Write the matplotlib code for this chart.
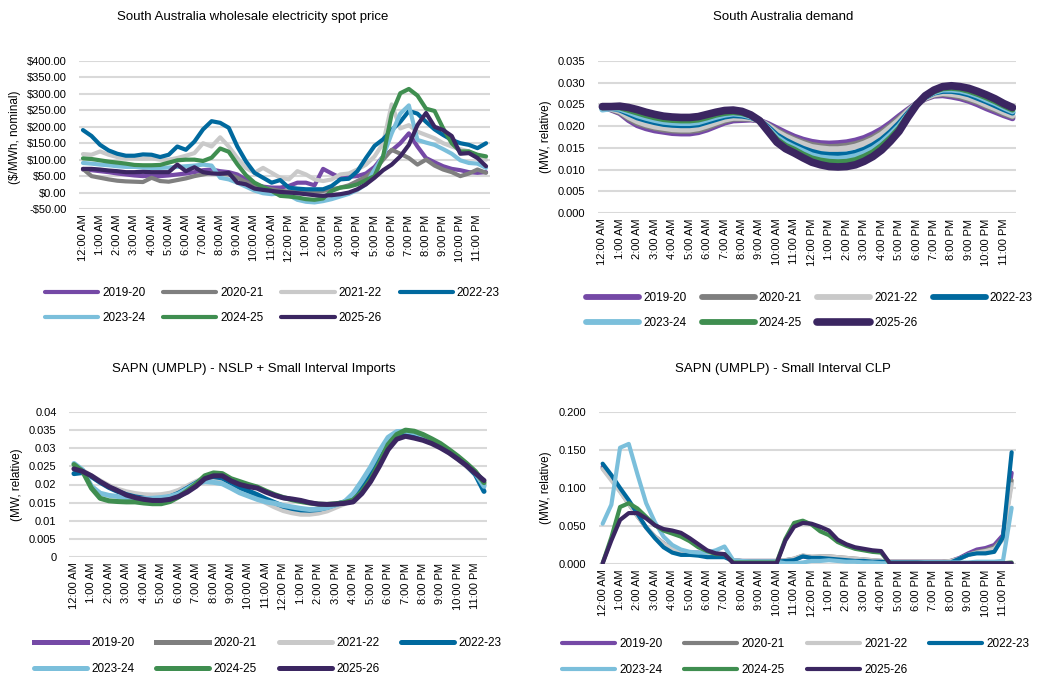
import matplotlib.pyplot as plt
import numpy as np
from matplotlib.ticker import FixedLocator, FuncFormatter

plt.rcParams['font.family'] = ['Liberation Sans', 'DejaVu Sans']

# Financial years shown in every panel
years = ["2019-20", "2020-21", "2021-22", "2022-23", "2023-24", "2024-25", "2025-26"]
year_colours = ["#7549A6", "#7F7F7F", "#C9C9C9", "#00699E", "#7BBFDB", "#3F8E50", "#3B2661"]

# 48 half-hour slots, labelled on the hour
hour_labels = ["12:00 AM", "1:00 AM", "2:00 AM", "3:00 AM", "4:00 AM", "5:00 AM",
               "6:00 AM", "7:00 AM", "8:00 AM", "9:00 AM", "10:00 AM", "11:00 AM",
               "12:00 PM", "1:00 PM", "2:00 PM", "3:00 PM", "4:00 PM", "5:00 PM",
               "6:00 PM", "7:00 PM", "8:00 PM", "9:00 PM", "10:00 PM", "11:00 PM"]

# Wholesale spot price ($/MWh)
price_2019 = [70, 68, 65, 62, 58, 55, 52, 50, 52, 50, 52, 55, 58, 62, 68, 70, 65, 62, 55, 40, 25, 18, 15, 15,
              20, 30, 30, 22, 72, 58, 45, 48, 50, 58, 78, 110, 128, 150, 180, 140, 105, 92, 80, 72, 68, 62, 60, 62]
price_2020 = [72, 50, 45, 40, 36, 34, 33, 32, 45, 35, 33, 38, 43, 50, 55, 60, 58, 55, 45, 32, 20, 15, 10, 5,
              3, 2, 2, 3, 5, 10, 15, 22, 35, 48, 68, 100, 130, 118, 105, 85, 100, 82, 70, 62, 50, 58, 70, 60]
price_2021 = [117, 115, 125, 115, 108, 104, 104, 103, 104, 100, 100, 105, 112, 120, 150, 140, 168, 140, 105, 75, 60, 75, 60, 45,
              40, 65, 55, 40, 35, 40, 55, 58, 70, 85, 110, 150, 268, 195, 205, 185, 175, 165, 150, 140, 132, 125, 112, 100]
price_2022 = [190, 172, 145, 128, 118, 112, 112, 116, 115, 108, 115, 140, 130, 155, 192, 217, 212, 197, 140, 95, 60, 45, 30, 38,
              15, 12, 10, 10, 10, 20, 40, 42, 65, 105, 142, 162, 190, 215, 248, 240, 215, 192, 175, 160, 150, 145, 135, 150]
price_2023 = [90, 88, 85, 83, 80, 78, 78, 76, 75, 75, 76, 78, 80, 82, 85, 82, 45, 40, 30, 18, 6, -2, -5, -3,
              -8, -22, -28, -30, -26, -20, -12, -4, 8, 25, 70, 110, 180, 240, 265, 160, 152, 145, 132, 118, 98, 90, 88, 75]
price_2024 = [104, 102, 98, 94, 91, 88, 84, 83, 83, 84, 91, 98, 100, 100, 96, 106, 134, 124, 86, 53, 30, 17, 5, -10,
              -12, -15, -20, -22, -18, 5, 15, 18, 25, 38, 50, 110, 240, 302, 315, 295, 255, 248, 195, 150, 125, 125, 115, 110]
price_2025 = [72, 72, 70, 67, 65, 62, 62, 63, 62, 62, 62, 85, 65, 77, 62, 58, 57, 60, 30, 25, 12, 8, 5, 2,
              0, -2, -5, -8, -10, -8, -5, 0, 10, 25, 45, 68, 85, 110, 145, 205, 242, 200, 190, 172, 118, 120, 105, 80]

# South Australia demand (MW, relative)
demand_2019 = [.0245, .0238, .0230, .0214, .0202, .0195, .0190, .0187, .0184, .0183, .0183, .0186, .0192, .0200, .0208, .0213,
               .0214, .0215, .0213, .0205, .0195, .0185, .0176, .0169, .0164, .0161, .0160, .0161, .0163, .0167, .0173, .0182,
               .0193, .0207, .0223, .0238, .0252, .0263, .0270, .0271, .0268, .0264, .0258, .0250, .0241, .0233, .0225, .0218]
demand_2020 = [.0245, .0239, .0232, .0218, .0207, .0201, .0196, .0192, .0190, .0189, .0189, .0191, .0197, .0205, .0212, .0217,
               .0217, .0217, .0213, .0202, .0190, .0179, .0170, .0163, .0157, .0154, .0152, .0153, .0155, .0159, .0165, .0174,
               .0186, .0201, .0218, .0235, .0252, .0264, .0272, .0274, .0272, .0268, .0262, .0255, .0246, .0238, .0229, .0222]
demand_2021 = [.0245, .0240, .0234, .0221, .0211, .0204, .0199, .0196, .0193, .0192, .0192, .0195, .0201, .0208, .0215, .0219,
               .0219, .0218, .0213, .0201, .0187, .0176, .0167, .0159, .0152, .0149, .0147, .0147, .0149, .0153, .0160, .0169,
               .0181, .0197, .0214, .0234, .0251, .0265, .0273, .0276, .0274, .0271, .0265, .0258, .0249, .0241, .0232, .0224]
demand_2022 = [.0240, .0242, .0238, .0229, .0220, .0214, .0209, .0205, .0203, .0202, .0202, .0204, .0210, .0216, .0222, .0225,
               .0224, .0221, .0213, .0197, .0179, .0167, .0157, .0148, .0141, .0136, .0134, .0134, .0135, .0139, .0146, .0156,
               .0169, .0186, .0206, .0229, .0251, .0267, .0277, .0281, .0281, .0278, .0273, .0265, .0257, .0248, .0239, .0231]
demand_2023 = [.0238, .0241, .0240, .0233, .0225, .0219, .0214, .0210, .0208, .0207, .0207, .0209, .0215, .0221, .0226, .0229,
               .0227, .0222, .0213, .0194, .0174, .0161, .0151, .0142, .0133, .0128, .0126, .0125, .0127, .0131, .0138, .0148,
               .0162, .0180, .0200, .0226, .0250, .0268, .0278, .0284, .0284, .0282, .0277, .0270, .0261, .0253, .0243, .0234]
demand_2024 = [.0243, .0244, .0243, .0237, .0231, .0225, .0220, .0216, .0214, .0213, .0213, .0215, .0220, .0226, .0230, .0232,
               .0230, .0224, .0213, .0191, .0169, .0155, .0146, .0135, .0126, .0121, .0118, .0117, .0118, .0122, .0130, .0140,
               .0155, .0173, .0195, .0224, .0250, .0269, .0280, .0287, .0288, .0286, .0281, .0274, .0266, .0257, .0247, .0238]
demand_2025 = [.0245, .0245, .0246, .0243, .0238, .0232, .0227, .0223, .0221, .0220, .0220, .0222, .0227, .0232, .0236, .0237,
               .0234, .0226, .0213, .0188, .0163, .0148, .0138, .0127, .0117, .0111, .0107, .0106, .0107, .0111, .0119, .0130,
               .0145, .0165, .0188, .0220, .0249, .0270, .0283, .0291, .0293, .0291, .0287, .0280, .0272, .0263, .0252, .0243]

# SAPN NSLP + small interval imports (no profile for the two earliest years)
nslp_2019 = None
nslp_2020 = None
nslp_2021 = [.0245, .0238, .0224, .0210, .0197, .0187, .0180, .0175, .0172, .0171, .0172, .0176, .0184, .0196, .0208, .0219,
             .0220, .0212, .0198, .0184, .0172, .0161, .0150, .0138, .0128, .0122, .0118, .0118, .0121, .0127, .0137, .0147,
             .0160, .0190, .0230, .0275, .0318, .0338, .0342, .0338, .0330, .0318, .0304, .0288, .0270, .0250, .0228, .0200]
nslp_2022 = [.0230, .0233, .0222, .0206, .0192, .0181, .0172, .0166, .0162, .0160, .0161, .0166, .0176, .0190, .0204, .0218,
             .0222, .0218, .0205, .0192, .0182, .0172, .0160, .0150, .0140, .0134, .0130, .0129, .0131, .0137, .0145, .0152,
             .0165, .0195, .0235, .0280, .0320, .0340, .0343, .0339, .0332, .0320, .0306, .0290, .0272, .0253, .0228, .0181]
nslp_2023 = [.0258, .0240, .0195, .0176, .0170, .0167, .0164, .0162, .0161, .0162, .0164, .0167, .0174, .0188, .0202, .0208,
             .0206, .0202, .0190, .0177, .0168, .0159, .0152, .0148, .0142, .0138, .0134, .0131, .0132, .0136, .0144, .0152,
             .0175, .0210, .0248, .0292, .0330, .0346, .0347, .0343, .0335, .0322, .0308, .0292, .0273, .0253, .0232, .0195]
nslp_2024 = [.0255, .0236, .0190, .0162, .0155, .0153, .0152, .0152, .0149, .0147, .0147, .0153, .0166, .0183, .0201, .0224,
             .0232, .0230, .0216, .0208, .0200, .0193, .0182, .0172, .0164, .0158, .0153, .0149, .0146, .0145, .0147, .0150,
             .0157, .0180, .0213, .0259, .0310, .0338, .0350, .0347, .0338, .0326, .0313, .0296, .0278, .0258, .0236, .0205]
nslp_2025 = [.0243, .0236, .0224, .0208, .0194, .0183, .0171, .0164, .0159, .0156, .0156, .0159, .0167, .0179, .0195, .0216,
             .0224, .0224, .0210, .0200, .0194, .0190, .0179, .0170, .0163, .0160, .0156, .0150, .0146, .0145, .0146, .0148,
             .0152, .0175, .0208, .0250, .0296, .0325, .0333, .0328, .0322, .0313, .0301, .0287, .0270, .0252, .0231, .0211]

# SAPN small interval controlled load profile
clp_2019 = [.128, .113, .097, .080, .064, .048, .036, .027, .020, .016, .015, .015, .013, .012, .012, .005,
            .004, .004, .004, .004, .004, .005, .006, .010, .008, .009, .009, .008, .007, .006, .005, .004,
            .004, .003, .003, .003, .003, .003, .003, .003, .004, .008, .014, .019, .021, .025, .038, .120]
clp_2020 = [.126, .112, .096, .079, .063, .048, .036, .027, .020, .016, .015, .014, .013, .012, .011, .005,
            .004, .004, .004, .004, .004, .005, .007, .011, .009, .010, .010, .009, .008, .007, .006, .005,
            .004, .003, .003, .003, .003, .003, .003, .003, .004, .007, .012, .016, .018, .022, .034, .110]
clp_2021 = [.125, .110, .095, .079, .063, .048, .036, .027, .020, .016, .015, .014, .013, .012, .011, .005,
            .004, .004, .004, .004, .004, .005, .007, .011, .010, .010, .010, .009, .008, .007, .006, .005,
            .004, .003, .003, .003, .003, .003, .003, .003, .004, .007, .012, .015, .017, .020, .032, .105]
clp_2022 = [.132, .117, .100, .084, .066, .048, .034, .022, .015, .012, .012, .011, .009, .009, .009, .004,
            .003, .003, .003, .003, .003, .004, .005, .010, .008, .008, .007, .006, .005, .004, .004, .003,
            .003, .002, .002, .002, .002, .002, .002, .002, .002, .007, .012, .014, .014, .016, .035, .147]
clp_2023 = [.053, .078, .153, .158, .118, .080, .055, .036, .025, .019, .016, .015, .015, .018, .023, .005,
            .004, .003, .003, .003, .003, .001, .001, .002, .004, .004, .005, .004, .003, .003, .002, .002,
            .001, .001, .001, .001, .001, .002, .002, .002, .002, .002, .002, .003, .003, .003, .004, .074]
clp_2024 = [.001, .035, .075, .080, .073, .062, .051, .044, .040, .036, .030, .022, .017, .013, .013, .002,
            .002, .002, .002, .002, .002, .033, .054, .057, .052, .043, .038, .029, .024, .020, .018, .016,
            .015, .001, .001, .001, .001, .001, .001, .001, .001, .001, .001, .001, .001, .001, .001, .002]
clp_2025 = [.001, .031, .058, .067, .067, .060, .051, .046, .044, .041, .034, .026, .018, .014, .013, .001,
            .001, .001, .001, .001, .001, .031, .049, .054, .053, .049, .044, .032, .026, .022, .020, .018,
            .017, .001, .001, .001, .001, .001, .001, .001, .001, .001, .001, .001, .001, .001, .001, .001]

W, H = 1041, 676
fig = plt.figure(figsize=(W / 100, H / 100), dpi=100)
slots = np.arange(48)


def px_axes(x0, y0, x1, y1):
    """Axes from pixel corners (top-left origin)."""
    return fig.add_axes([x0 / W, 1 - y1 / H, (x1 - x0) / W, (y1 - y0) / H])


def dollars(v, _):
    return f"${v:,.2f}" if v >= 0 else f"-${-v:,.2f}"


def draw_panel(ax, series, ymax, ystep, ymin, fmt, xlim, widths):
    handles = []
    for data, colour, lw in zip(series, year_colours, widths):
        if data is None:
            h, = ax.plot([], [], color=colour, lw=lw)
        else:
            h, = ax.plot(slots, data, color=colour, lw=lw, solid_joinstyle="round",
                         solid_capstyle="round")
        handles.append(h)
    ax.set_ylim(ymin, ymax)
    ax.set_xlim(*xlim)
    ax.yaxis.set_major_locator(FixedLocator(np.arange(ymin, ymax + ystep / 2, ystep)))
    ax.yaxis.set_major_formatter(FuncFormatter(fmt))
    ax.set_xticks(slots[::2])
    ax.set_xticklabels(hour_labels, rotation=90)
    ax.tick_params(length=0, labelsize=8, pad=4)
    ax.tick_params(axis="y", pad=9)
    ax.grid(axis="y", color="#D9D9D9", lw=1.5)
    ax.set_axisbelow(True)
    for s in ax.spines.values():
        s.set_visible(False)
    return handles


def add_legend(handles, x, y, spacing):
    order = [0, 4, 1, 5, 2, 6, 3]
    fig.legend([handles[i] for i in order], [years[i] for i in order],
               loc="center left", bbox_to_anchor=(x / W, 1 - y / H), ncol=4,
               frameon=False, fontsize=8.5, handlelength=4.5, handletextpad=0.35,
               columnspacing=spacing, labelspacing=1.15, borderpad=0, borderaxespad=0)


thin = [3.0] * 7
thick = [4.2, 4.2, 4.2, 4.2, 4.2, 4.2, 5.5]

# Spot price
ax1 = px_axes(79, 61, 490, 209)
h1 = draw_panel(ax1, [price_2019, price_2020, price_2021, price_2022, price_2023, price_2024, price_2025],
                400, 50, -50, dollars, (-0.46, 47.46), thin)
fig.text(253 / W, 1 - 17 / H, "South Australia wholesale electricity spot price", ha="center", va="center", fontsize=9.5)
fig.text(15 / W, 1 - 137 / H, "($/MWh, nominal)", rotation=90, ha="center", va="center", fontsize=8.5)
add_legend(h1, 45, 305.5, 1.5)

# Demand
ax2 = px_axes(598, 61, 1016, 213)
h2 = draw_panel(ax2, [demand_2019, demand_2020, demand_2021, demand_2022, demand_2023, demand_2024, demand_2025],
                0.035, 0.005, 0, lambda v, _: f"{v:.3f}", (-0.5, 47.4), thick)
fig.text(783 / W, 1 - 17 / H, "South Australia demand", ha="center", va="center", fontsize=9.5)
fig.text(546 / W, 1 - 137 / H, "(MW, relative)", rotation=90, ha="center", va="center", fontsize=8.5)
add_legend(h2, 586, 310.5, 1.27)

# NSLP + small interval imports
ax3 = px_axes(69, 412, 487, 557)
h3 = draw_panel(ax3, [nslp_2019, nslp_2020, nslp_2021, nslp_2022, nslp_2023, nslp_2024, nslp_2025],
                0.04, 0.005, 0, lambda v, _: f"{v:g}" if abs(v) > 1e-9 else "0", (-0.57, 47.34), [3.6] * 7)
fig.text(254 / W, 1 - 369 / H, "SAPN (UMPLP) - NSLP + Small Interval Imports", ha="center", va="center", fontsize=9.5)
fig.text(17 / W, 1 - 485 / H, "(MW, relative)", rotation=90, ha="center", va="center", fontsize=8.5)
add_legend(h3, 34, 656, 1.85)

# Controlled load
ax4 = px_axes(599, 412, 1016, 564)
h4 = draw_panel(ax4, [clp_2019, clp_2020, clp_2021, clp_2022, clp_2023, clp_2024, clp_2025],
                0.2, 0.05, 0, lambda v, _: f"{v:.3f}", (-0.42, 47.5), thin)
fig.text(783 / W, 1 - 369 / H, "SAPN (UMPLP) - Small Interval CLP", ha="center", va="center", fontsize=9.5)
fig.text(546 / W, 1 - 488 / H, "(MW, relative)", rotation=90, ha="center", va="center", fontsize=8.5)
add_legend(h4, 562, 657, 1.85)

fig.savefig("out.png", dpi=100)
